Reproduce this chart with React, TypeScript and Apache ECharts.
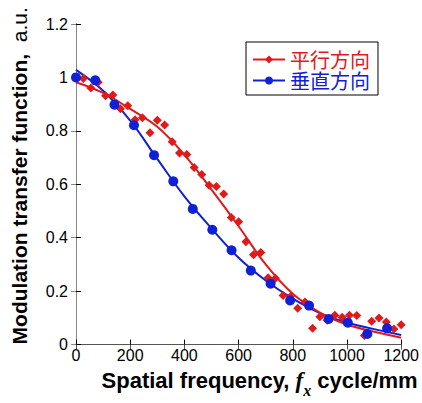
import React, { useEffect, useRef } from "react";
import * as echarts from "echarts";

const parallelX = [27, 55, 82, 109, 136, 164, 191, 218, 245, 273, 300, 327, 355, 382, 409, 436, 464, 491, 518, 545, 573, 600, 627, 655, 682, 709, 736, 764, 791, 818, 845, 873, 900, 927, 955, 982, 1009, 1036, 1064, 1091, 1118, 1145, 1173, 1200];
const parallelY = [0.996, 0.96, 0.982, 0.931, 0.934, 0.883, 0.894, 0.842, 0.849, 0.793, 0.84, 0.822, 0.759, 0.717, 0.712, 0.663, 0.637, 0.596, 0.592, 0.564, 0.476, 0.46, 0.385, 0.336, 0.345, 0.25, 0.248, 0.184, 0.179, 0.136, 0.159, 0.061, 0.104, 0.091, 0.11, 0.102, 0.11, 0.109, 0.034, 0.087, 0.1, 0.085, 0.058, 0.074];
const verticalX = [0, 71, 142, 214, 288, 359, 431, 503, 574, 645, 718, 790, 860, 932, 1003, 1075, 1148];
const verticalY = [1.0, 0.989, 0.898, 0.821, 0.709, 0.611, 0.508, 0.43, 0.353, 0.277, 0.228, 0.165, 0.146, 0.096, 0.082, 0.04, 0.061];
const fitX = [0, 100, 200, 300, 400, 500, 600, 700, 800, 900, 1000, 1100, 1200];
const parallelFit = [0.982, 0.942, 0.882, 0.815, 0.71, 0.58, 0.443, 0.3, 0.19, 0.12, 0.075, 0.048, 0.026];
const verticalFit = [1.028, 0.95, 0.838, 0.695, 0.555, 0.435, 0.325, 0.24, 0.172, 0.118, 0.083, 0.058, 0.036];

const NAME_PARALLEL = "平行方向";
const NAME_VERTICAL = "垂直方向";
const RED = "#e01a1a";
const BLUE = "#1020d8";
const FONT = "'Liberation Sans', Arial, sans-serif";

export default function App() {
  const ref = useRef<HTMLDivElement>(null);
  useEffect(() => {
    if (!ref.current) return;
    const chart = echarts.init(ref.current, undefined, { renderer: "svg" });
    const pair = (xs: number[], ys: number[]) => xs.map((x, i) => [x, ys[i]]);
    const plain = (v: number) => String(v);
    const tickInside = { show: true, inside: true, length: 5, lineStyle: { color: "#000", width: 1 } };
    chart.setOption({
      animation: false,
      backgroundColor: "#fff",
      grid: { left: 76, top: 24, width: 326, height: 326, containLabel: false },
      legend: {
        orient: "vertical",
        left: 246,
        top: 42,
        padding: [7, 8, 4, 6],
        itemGap: 0,
        itemWidth: 32,
        itemHeight: 10,
        borderColor: "#000",
        borderWidth: 1,
        backgroundColor: "#fff",
        textStyle: { fontSize: 20, lineHeight: 21, fontFamily: "'Noto Sans CJK JP', sans-serif" },
        data: [
          { name: NAME_PARALLEL, textStyle: { color: RED } },
          { name: NAME_VERTICAL, textStyle: { color: BLUE } },
        ],
      },
      xAxis: [
        {
          type: "value",
          min: 0,
          max: 1200,
          interval: 200,
          position: "bottom",
          axisLine: { show: true, lineStyle: { color: "#000", width: 1 } },
          axisTick: tickInside,
          splitLine: { show: false },
          axisLabel: { color: "#000", fontSize: 16, fontFamily: FONT, margin: 3, formatter: plain },
          name: "{b|Spatial frequency, }{f|f}{s|x}{b| cycle/mm}",
          nameLocation: "middle",
          nameGap: 16,
          nameTextStyle: {
            padding: [0, 0, 0, 42],
            rich: {
              b: { fontSize: 22, fontWeight: "bold", fontFamily: FONT, color: "#000", lineHeight: 36 },
              f: { fontSize: 23, fontWeight: "bold", fontStyle: "italic", fontFamily: "'Liberation Serif', serif", color: "#000", lineHeight: 36 },
              s: { fontSize: 16, fontWeight: "bold", fontStyle: "italic", fontFamily: "'Liberation Serif', serif", color: "#000", lineHeight: 36, verticalAlign: "bottom" },
            },
          },
        },
        {
          type: "value",
          min: 0,
          max: 1200,
          interval: 200,
          position: "top",
          axisLine: { show: true, lineStyle: { color: "#555", width: 1 } },
          axisTick: { ...tickInside, lineStyle: { color: "#555", width: 1 } },
          axisLabel: { show: false },
          splitLine: { show: false },
        },
      ],
      yAxis: [
        {
          type: "value",
          min: 0,
          max: 1.2,
          interval: 0.2,
          position: "left",
          axisLine: { show: true, lineStyle: { color: "#000", width: 1 } },
          axisTick: tickInside,
          splitLine: { show: false },
          axisLabel: { color: "#000", fontSize: 16, fontFamily: FONT, margin: 8, formatter: plain },
          name: "{b|Modulation transfer function,}{n|  a.u.}",
          nameLocation: "middle",
          nameGap: 46,
          nameRotate: 90,
          nameTextStyle: {
            padding: [0, 0, 0, 17],
            rich: {
              b: { fontSize: 21, fontWeight: "bold", fontFamily: FONT, color: "#000" },
              n: { fontSize: 21, fontFamily: FONT, color: "#000" },
            },
          },
        },
        {
          type: "value",
          min: 0,
          max: 1.2,
          interval: 0.2,
          position: "right",
          axisLine: { show: true, lineStyle: { color: "#888", width: 1 } },
          axisTick: { ...tickInside, lineStyle: { color: "#888", width: 1 } },
          axisLabel: { show: false },
          splitLine: { show: false },
        },
      ],
      series: [
        {
          name: NAME_VERTICAL,
          type: "line",
          data: pair(fitX, verticalFit),
          smooth: 0.4,
          symbol: "circle",
          showSymbol: false,
          lineStyle: { color: BLUE, width: 2 },
          itemStyle: { color: BLUE },
          z: 2,
        },
        {
          name: NAME_PARALLEL,
          type: "line",
          data: pair(fitX, parallelFit),
          smooth: 0.4,
          symbol: "diamond",
          showSymbol: false,
          lineStyle: { color: RED, width: 2 },
          itemStyle: { color: RED },
          z: 2,
        },
        {
          name: NAME_PARALLEL + " data",
          type: "scatter",
          data: pair(parallelX, parallelY),
          symbol: "diamond",
          symbolSize: 9,
          itemStyle: { color: RED, opacity: 1 },
          z: 3,
        },
        {
          name: NAME_VERTICAL + " data",
          type: "scatter",
          data: pair(verticalX, verticalY),
          symbol: "circle",
          symbolSize: 10,
          itemStyle: { color: BLUE, opacity: 1 },
          z: 4,
        },
      ],
    });
    return () => chart.dispose();
  }, []);
  return <div ref={ref} style={{ position: "fixed", left: 0, top: 0, width: 422, height: 403 }} />;
}
